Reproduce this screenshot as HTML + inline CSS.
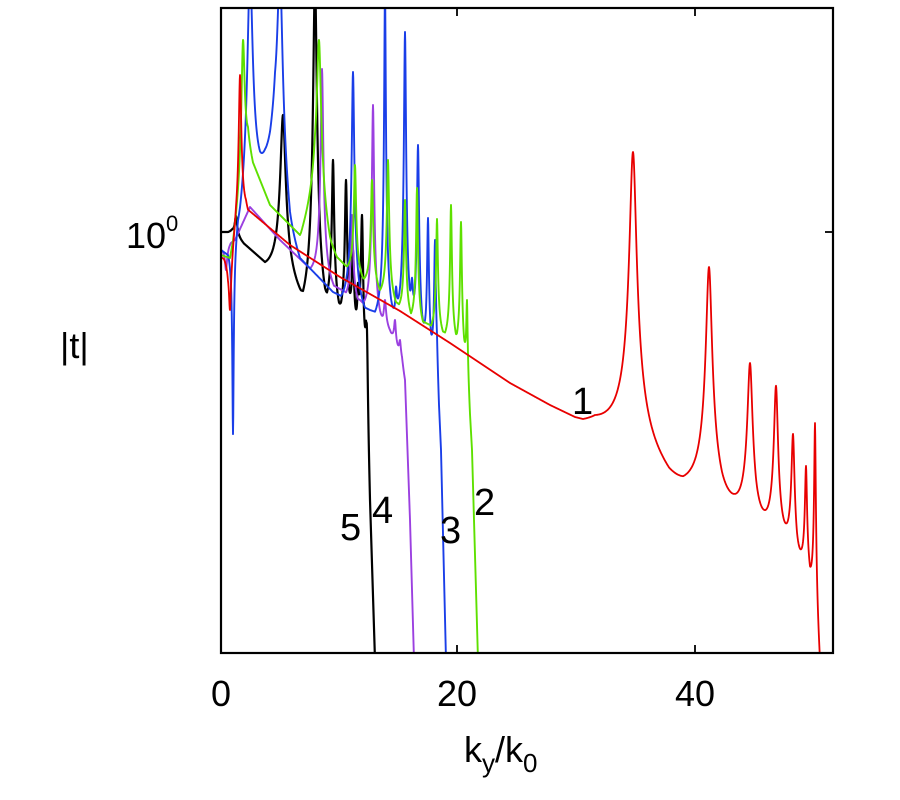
<!DOCTYPE html>
<html><head><style>
html,body{margin:0;padding:0;background:#fff;}
svg{display:block;font-family:"Liberation Sans",Arial,sans-serif;}
</style></head><body>
<svg id="s" width="900" height="800" viewBox="0 0 900 800">
<defs><clipPath id="c"><rect x="221" y="8" width="612" height="645"/></clipPath></defs>
<g id="curves" clip-path="url(#c)"></g>
<rect x="221" y="8" width="612" height="645" fill="none" stroke="#000" stroke-width="2.2"/>
<g stroke="#000" stroke-width="1.8">
<line x1="457" y1="653" x2="457" y2="645"/><line x1="695" y1="653" x2="695" y2="645"/>
<line x1="457" y1="8" x2="457" y2="16"/><line x1="695" y1="8" x2="695" y2="16"/>
<line x1="221" y1="232" x2="229" y2="232"/><line x1="833" y1="232" x2="825" y2="232"/>
</g>
<g font-size="36" fill="#000">
<text x="221" y="706" text-anchor="middle">0</text>
<text x="457" y="706" text-anchor="middle">20</text>
<text x="695" y="706" text-anchor="middle">40</text>
<text x="126" y="248">10<tspan font-size="22" dy="-17">0</tspan></text>
<text x="60" y="358">|t|</text>
<text x="464" y="762">k<tspan font-size="26" dy="10">y</tspan><tspan dy="-10">/k</tspan><tspan font-size="26" dy="10">0</tspan></text>
<text x="572" y="414" font-size="38">1</text>
<text x="474" y="515" font-size="38">2</text>
<text x="440" y="543" font-size="38">3</text>
<text x="372" y="523" font-size="38">4</text>
<text x="340" y="540" font-size="38">5</text>
</g>
</svg>
<script>
function interp(pts,x){if(x<=pts[0][0])return pts[0][1];for(let i=1;i<pts.length;i++){if(x<=pts[i][0]){const a=pts[i-1],b=pts[i];return a[1]+(b[1]-a[1])*(x-a[0])/(b[0]-a[0]);}}return pts[pts.length-1][1];}
function curve(base,spikes,x0,x1,color,sw){
 let d="";
 for(let x=x0;x<=x1;x+=0.25){
  let b=interp(base,x),y=b;
  for(const s of spikes){const h=interp(base,s[0])-s[1];const w=s[2]||1.5;const R=s[3]||25;const dx=x-s[0];
   if(Math.abs(dx)>=R)continue;
   const e=h/Math.sqrt(1+(R/w)*(R/w));
   const f=(h/Math.sqrt(1+(dx/w)*(dx/w))-e)/(1-e/h||1);
   y-=f;}
  y=Math.max(0,Math.min(700,y));
  d+=(d?"L":"M")+x.toFixed(2)+" "+y.toFixed(1);
 }
 const p=document.createElementNS("http://www.w3.org/2000/svg","path");
 p.setAttribute("d",d);p.setAttribute("fill","none");p.setAttribute("stroke",color);p.setAttribute("stroke-width",sw||1.8);p.setAttribute("stroke-linejoin","round");
 document.getElementById("curves").appendChild(p);
}
// black 5
curve([[221,232],[232,232],[240,240],[265,262],[300,290],[330,300],[350,320],[362,340],[366,360],[370,500],[375,660]],
 [[236,216,1,8],[283,115,2.5,18],[315,-20,1.8,12],[333,160,1,8],[346,180,1,7],[353,250,1,5],[362,215,1,5],[358,290,0.8,4],[367,330,0.8,3]],221,378,"#000",2.2);
// purple 4
curve([[221,250],[235,240],[250,207],[280,240],[320,278],[360,300],[390,330],[402,360],[405,380],[410,520],[414,660]],
 [[226,270,-1,5],[322,69,1.2,12],[352,215,1,6],[373,105,1,10],[385,300,1,5],[395,320,0.8,4],[400,340,0.8,4]],221,416,"#9b40e0",1.9);
// blue 3
curve([[221,250],[228,255],[240,240],[265,170],[275,150],[290,240],[300,258],[333,292],[370,310],[400,320],[420,335],[437,360],[441,450],[446,660]],
 [[233,440,0.6,5],[250,-30,2.5,20],[280,-30,2.5,20],[353,72,1.2,12],[385,-10,0.8,10],[405,32,1,10],[418,145,1,8],[428,218,0.8,6],[435,240,0.8,4],[396,290,0.8,5],[412,300,0.8,4]],221,448,"#1a3ee8",1.9);
// green 2
curve([[221,255],[230,258],[240,200],[248,150],[270,205],[300,235],[315,200],[330,250],[345,265],[380,290],[420,320],[460,340],[467,360],[472,450],[478,660]],
 [[243,40,1.5,10],[319,40,2,18],[355,165,1,8],[372,180,1,8],[388,160,1,8],[405,200,0.8,6],[417,188,0.8,6],[437,219,0.8,6],[451,205,0.8,6],[461,222,0.8,5],[467,300,0.6,3]],221,480,"#5ee000",1.9);
// red 1
curve([[221,257],[228,262],[236,230],[246,208],[290,245],[340,277],[400,311],[450,343],[510,383],[550,405],[575,417],[595,422],[684,487],[734,517],[764,537],[786,555],[805,575],[815,590],[820,660]],
 [[230,310,-1,6],[240,75,1.2,8],[633,152,3.5,50],[709,267,3,40],[750,363,2.5,28],[776,387,2,20],[793,437,1.5,14],[806,467,1,9],[815,423,0.8,5]],221,821,"#e80000",1.8);
</script>
</body></html>
